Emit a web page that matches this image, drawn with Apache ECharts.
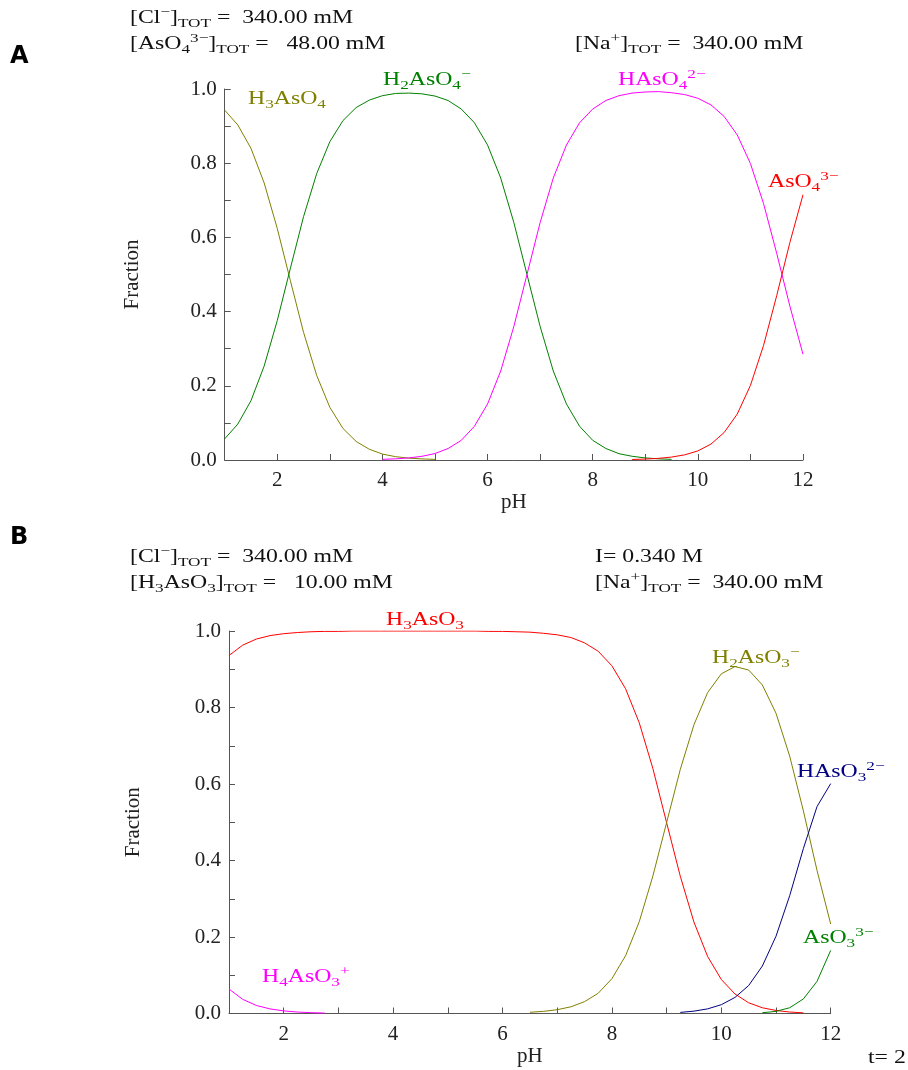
<!DOCTYPE html>
<html>
<head>
<meta charset="utf-8">
<script src="https://cdn.jsdelivr.net/npm/echarts@6/dist/echarts.min.js"></script>
<style>
  html, body { margin: 0; padding: 0; background: #fff; }
  #chart { width: 908px; height: 1070px; }
</style>
</head>
<body>
<div id="chart"></div>
<script>
// pH grid shared by both panels
const pH = [1, 1.25, 1.5, 1.75, 2, 2.25, 2.5, 2.75, 3, 3.25, 3.5, 3.75, 4, 4.25, 4.5, 4.75,
  5, 5.25, 5.5, 5.75, 6, 6.25, 6.5, 6.75, 7, 7.25, 7.5, 7.75, 8, 8.25, 8.5, 8.75,
  9, 9.25, 9.5, 9.75, 10, 10.25, 10.5, 10.75, 11, 11.25, 11.5, 11.75, 12];

// panel A - arsenate
const h3aso4 = [0.943, 0.903, 0.840, 0.747, 0.624, 0.483, 0.344, 0.228, 0.142, 0.085, 0.050, 0.029,
  0.016, 0.009, 0.005, 0.003, 0.0016,
  null, null, null, null, null, null, null, null, null, null, null, null, null, null, null, null, null,
  null, null, null, null, null, null, null, null, null, null, null];
const h2aso4 = [0.057, 0.097, 0.160, 0.253, 0.376, 0.517, 0.656, 0.772, 0.858, 0.915, 0.950, 0.970,
  0.982, 0.988, 0.989, 0.987, 0.981, 0.969, 0.946, 0.909, 0.849, 0.760, 0.640, 0.500, 0.360, 0.240,
  0.151, 0.091, 0.053, 0.031, 0.017, 0.010, 0.0056, 0.0031, 0.0018,
  null, null, null, null, null, null, null, null, null, null];
const haso4 = [null, null, null, null, null, null, null, null, null, null, null, null,
  0.0018, 0.0031, 0.0056, 0.0099, 0.0174, 0.031, 0.053, 0.091, 0.151, 0.240,
  0.360, 0.500, 0.640, 0.760, 0.849, 0.909, 0.946, 0.969, 0.982, 0.989,
  0.992, 0.993, 0.990, 0.985, 0.975, 0.957, 0.926, 0.876, 0.799, 0.691, 0.557, 0.415, 0.285];
const aso4 = [null, null, null, null, null, null, null, null, null, null, null, null, null, null, null, null,
  null, null, null, null, null, null, null, null, null, null, null, null, null, null, null,
  0.0014, 0.0025, 0.0044, 0.0079, 0.0139, 0.0245, 0.043, 0.074, 0.124, 0.201, 0.309, 0.443, 0.586, 0.715];

// panel B - arsenite
const h4aso3 = [0.064, 0.037, 0.021, 0.012, 0.0068, 0.0038, 0.0022, 0.0012,
  null, null, null, null, null, null, null, null, null, null, null, null, null, null, null, null, null,
  null, null, null, null, null, null, null, null, null, null, null, null, null, null, null, null, null,
  null, null, null];
const h3aso3 = [0.936, 0.963, 0.979, 0.988, 0.993, 0.996, 0.998, 0.999, 0.999, 1.0, 1.0, 1.0, 1.0, 1.0,
  1.0, 1.0, 1.0, 1.0, 1.0, 0.999, 0.999, 0.998, 0.997, 0.994, 0.990, 0.983, 0.969, 0.947, 0.909, 0.849,
  0.760, 0.640, 0.499, 0.359, 0.239, 0.149, 0.089, 0.051, 0.028, 0.015, 0.0079, 0.0038, 0.0017, null, null];
const h2aso3 = [null, null, null, null, null, null, null, null, null, null, null, null, null, null, null,
  null, null, null, null, null, null, null,
  0.0032, 0.0056, 0.0099, 0.0175, 0.031, 0.053, 0.091, 0.151, 0.240, 0.360,
  0.499, 0.638, 0.755, 0.839, 0.888, 0.907, 0.898, 0.859, 0.785, 0.673, 0.530, 0.374, 0.234];
const haso3 = [null, null, null, null, null, null, null, null, null, null, null, null, null, null, null,
  null, null, null, null, null, null, null, null, null, null, null, null, null, null, null, null, null, null,
  0.0029, 0.0061, 0.0121, 0.023, 0.042, 0.073, 0.124, 0.202, 0.308, 0.431, 0.541, 0.601];
const aso3 = [null, null, null, null, null, null, null, null, null, null, null, null, null, null, null,
  null, null, null, null, null, null, null, null, null, null, null, null, null, null, null, null, null, null,
  null, null, null, null, null, null, 0.0019, 0.0056, 0.015, 0.038, 0.084, 0.165];

const serif = '"Liberation Serif", "DejaVu Serif", serif';

function pairs(arr) {
  return pH.map((x, i) => [x, arr[i]]).filter(d => d[1] !== null);
}

function curve(arr, color, idx) {
  return {
    type: 'line', xAxisIndex: idx, yAxisIndex: idx, data: pairs(arr),
    symbol: 'none', smooth: false,
    lineStyle: { color: color, width: 1 }
  };
}

// rich text: n normal, b subscript, p superscript
function rich(color) {
  return {
    n: { fontFamily: serif, fontSize: 18, lineHeight: 24, fill: color, verticalAlign: 'middle' },
    b: { fontFamily: serif, fontSize: 13, lineHeight: 14, fill: color, verticalAlign: 'bottom' },
    p: { fontFamily: serif, fontSize: 13, lineHeight: 14, fill: color, verticalAlign: 'top' }
  };
}

function label(x, y, text, color) {
  return {
    type: 'text', x: x, y: y, scaleX: 1.32,
    style: { text: text, rich: rich(color), fill: color, verticalAlign: 'middle', align: 'left' }
  };
}

function xAx(idx) {
  return {
    type: 'value', gridIndex: idx, min: 1, max: 12, interval: 1,
    name: 'pH', nameLocation: 'middle', nameGap: 32,
    nameTextStyle: { fontFamily: serif, fontSize: 21, color: '#222' },
    axisLine: { lineStyle: { color: '#555', width: 1 } },
    axisTick: { inside: true, length: 6, lineStyle: { color: '#555' } },
    axisLabel: {
      fontFamily: serif, fontSize: 21, color: '#222', margin: 10,
      formatter: v => (v % 2 === 0 ? String(v) : '')
    },
    splitLine: { show: false }
  };
}

function yAx(idx, gap) {
  return {
    type: 'value', gridIndex: idx, min: 0, max: 1, interval: 0.1,
    name: 'Fraction', nameLocation: 'middle', nameGap: gap,
    nameTextStyle: { fontFamily: serif, fontSize: 21, color: '#222' },
    axisLine: { show: true, lineStyle: { color: '#555', width: 1 } },
    axisTick: { show: true, inside: true, length: 6, lineStyle: { color: '#555' } },
    axisLabel: {
      fontFamily: serif, fontSize: 21, color: '#222', margin: 8,
      formatter: v => (Math.round(v * 10) % 2 === 0 ? v.toFixed(1) : '')
    },
    splitLine: { show: false }
  };
}

const chart = echarts.init(document.getElementById('chart'));
const dark = '#111';

chart.setOption({
  animation: false,
  backgroundColor: '#fff',
  grid: [
    { left: 224.7, top: 89, width: 578.3, height: 371, outerBoundsMode: 'none' },
    { left: 229, top: 631, width: 601.7, height: 382.5, outerBoundsMode: 'none' }
  ],
  xAxis: [xAx(0), xAx(1)],
  yAxis: [yAx(0, 82), yAx(1, 85)],
  series: [
    curve(h3aso4, '#808000', 0),
    curve(h2aso4, '#008000', 0),
    curve(haso4, '#ff00ff', 0),
    curve(aso4, '#ff0000', 0),
    curve(h4aso3, '#ff00ff', 1),
    curve(h3aso3, '#ff0000', 1),
    curve(h2aso3, '#808000', 1),
    curve(haso3, '#000080', 1),
    curve(aso3, '#008000', 1)
  ],
  graphic: [
    { type: 'text', x: 10, y: 57, style: { text: 'A', font: 'bold 24px "DejaVu Sans", sans-serif', fill: '#000', verticalAlign: 'middle' } },
    { type: 'text', x: 10, y: 538, style: { text: 'B', font: 'bold 24px "DejaVu Sans", sans-serif', fill: '#000', verticalAlign: 'middle' } },
    // panel A header
    label(130, 18, '{n|[Cl}{p|−}{n|]}{b|TOT}{n| =  340.00 mM}', dark),
    label(130, 44, '{n|[AsO}{b|4}{p|3−}{n|]}{b|TOT}{n| =   48.00 mM}', dark),
    label(575, 44, '{n|[Na}{p|+}{n|]}{b|TOT}{n| =  340.00 mM}', dark),
    // panel A curve labels
    label(248, 99, '{n|H}{b|3}{n|AsO}{b|4}', '#808000'),
    label(383, 80, '{n|H}{b|2}{n|AsO}{b|4}{p|−}', '#008000'),
    label(618, 80, '{n|HAsO}{b|4}{p|2−}', '#ff00ff'),
    label(768, 182, '{n|AsO}{b|4}{p|3−}', '#ff0000'),
    // panel B header
    label(130, 557, '{n|[Cl}{p|−}{n|]}{b|TOT}{n| =  340.00 mM}', dark),
    label(130, 583, '{n|[H}{b|3}{n|AsO}{b|3}{n|]}{b|TOT}{n| =   10.00 mM}', dark),
    label(595, 557, '{n|I= 0.340 M}', dark),
    label(595, 583, '{n|[Na}{p|+}{n|]}{b|TOT}{n| =  340.00 mM}', dark),
    // panel B curve labels
    label(386, 620, '{n|H}{b|3}{n|AsO}{b|3}', '#ff0000'),
    label(712, 658, '{n|H}{b|2}{n|AsO}{b|3}{p|−}', '#808000'),
    label(797, 772, '{n|HAsO}{b|3}{p|2−}', '#000080'),
    label(803, 938, '{n|AsO}{b|3}{p|3−}', '#008000'),
    label(262, 977, '{n|H}{b|4}{n|AsO}{b|3}{p|+}', '#ff00ff'),
    label(868, 1058, '{n|t= 2}', dark)
  ]
});

window.addEventListener('resize', () => chart.resize());
</script>
</body>
</html>
